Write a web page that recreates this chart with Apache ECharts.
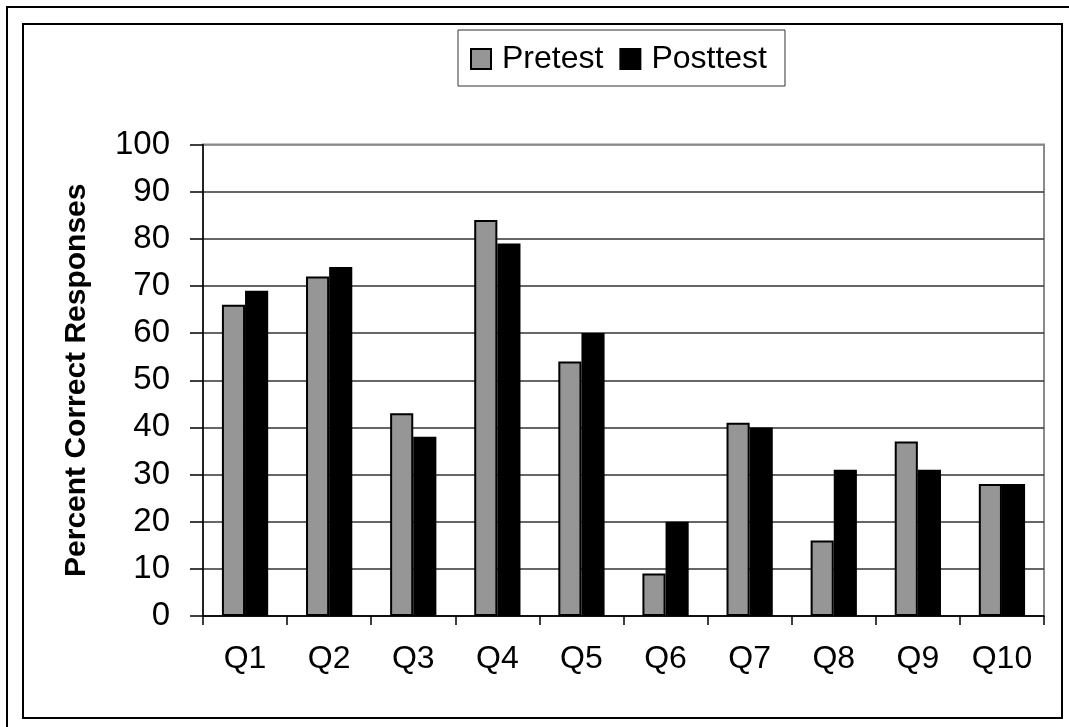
<!DOCTYPE html>
<html>
<head>
<meta charset="utf-8">
<script src="https://cdn.jsdelivr.net/npm/echarts@6/dist/echarts.min.js"></script>
<style>
html,body{margin:0;padding:0;background:#fff;}
#c{width:1069px;height:727px;}
</style>
</head>
<body>
<div id="c"></div>
<script>
const categories = ['Q1','Q2','Q3','Q4','Q5','Q6','Q7','Q8','Q9','Q10'];
const pretest = [66, 72, 43, 84, 54, 9, 41, 16, 37, 28];
const posttest = [69, 74, 38, 79, 60, 20, 40, 31, 31, 28];
const yTicks = [0,10,20,30,40,50,60,70,80,90,100];

const FONT = 'Liberation Sans, Arial, sans-serif';
const gridColors = yTicks.map((v) => v === 100 ? '#8a8a8a' : '#333333');

const chart = echarts.init(document.getElementById('c'), null, {renderer: 'canvas'});
chart.setOption({
  backgroundColor: '#ffffff',
  animation: false,
  textStyle: {fontFamily: FONT},
  graphic: [
    {type: 'rect', shape: {x: 7, y: 7, width: 1200, height: 1200}, style: {fill: 'none', stroke: '#000', lineWidth: 2}, silent: true},
    {type: 'rect', shape: {x: 23, y: 24, width: 1039, height: 694}, style: {fill: 'none', stroke: '#000', lineWidth: 2}, silent: true}
  ],
  legend: {
    left: 458, top: 30,
    padding: [13, 18, 11, 12],
    borderColor: '#333', borderWidth: 1,
    icon: 'rect',
    itemWidth: 20, itemHeight: 20, itemGap: 16,
    textStyle: {fontFamily: FONT, fontSize: 32, color: '#000', padding: [0, 0, 0, 6]},
    data: [
      {name: 'Pretest', itemStyle: {color: '#969696', borderColor: '#000', borderWidth: 2}},
      {name: 'Posttest', itemStyle: {color: '#000', borderColor: '#000', borderWidth: 2}}
    ]
  },
  grid: {left: 203, right: 25, top: 144.5, bottom: 111, show: true, borderColor: '#8a8a8a', borderWidth: 2, backgroundColor: 'transparent'},
  xAxis: {
    type: 'category',
    data: categories,
    axisLine: {lineStyle: {color: '#000', width: 1.5}},
    axisTick: {show: true, length: 9, lineStyle: {color: '#000', width: 1.5}},
    axisLabel: {fontFamily: FONT, fontSize: 32, color: '#000', margin: 27}
  },
  yAxis: {
    type: 'value',
    min: 0, max: 100, interval: 10,
    name: 'Percent Correct Responses',
    nameLocation: 'middle',
    nameGap: 111,
    nameTextStyle: {fontFamily: FONT, fontSize: 30, fontWeight: 'bold', color: '#000'},
    axisLine: {show: true, lineStyle: {color: '#000', width: 1.5}},
    axisTick: {show: true, length: 13, lineStyle: {color: '#000', width: 1.5}},
    axisLabel: {fontFamily: FONT, fontSize: 33, color: '#000', margin: 33},
    splitLine: {show: true, lineStyle: {color: gridColors, width: 1.5}}
  },
  series: [
    {name: 'Pretest', type: 'bar', data: pretest, barGap: '0%', barCategoryGap: '45%',
     itemStyle: {color: '#969696', borderColor: '#000', borderWidth: 2}},
    {name: 'Posttest', type: 'bar', data: posttest, barGap: '0%', barCategoryGap: '45%',
     itemStyle: {color: '#000', borderColor: '#000', borderWidth: 2}}
  ]
});
</script>
</body>
</html>
